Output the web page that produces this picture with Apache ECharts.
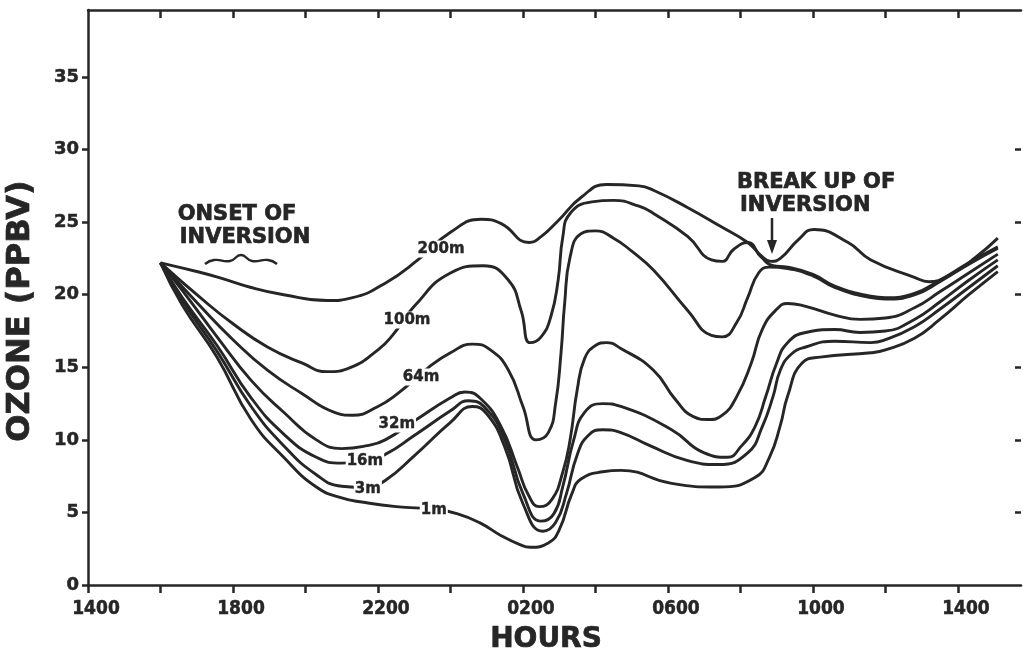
<!DOCTYPE html>
<html><head><meta charset="utf-8">
<script src="https://cdn.jsdelivr.net/npm/echarts@6/dist/echarts.min.js"></script>
<style>html,body{margin:0;padding:0;background:#fff}#c{width:1023px;height:658px}</style>
</head><body><div id="c"></div><script>
// hours counted from 1400 on day 1
const hourTicks = [0,2,4,6,8,10,12,14,16,18,20,22,24];
const hourLabels = [0,4,8,12,16,20,24];
const ozoneTicks = [0,5,10,15,20,25,30,35];
const rightTicks = [5,10,15,20,25,30];
const X_MAX = 25.74, Y_MAX = 39.62;

const o3_200m = [[2,22.2],[3.0,21.6],[3.6,21.2],[4.5,20.5],[5.4,20.0],[6.6,19.6],[7.3,19.8],[8.2,20.8],[9.1,22.4],[10.0,24.3],[10.85,25.2],[11.4,24.9],[12.17,23.6],[12.5,24.0],[12.97,25.1],[13.6,26.7],[14.3,27.6],[15.2,27.5],[15.6,27.2],[16.55,26.0],[17.46,24.7],[18.2,23.6],[18.57,22.7],[18.84,22.3],[19.1,22.5],[19.6,23.8],[20.03,24.5],[20.97,23.6],[21.6,22.4],[22.8,21.2],[23.2,20.9],[23.8,21.4],[24.5,22.6],[25.1,23.9]];
const o3_100m = [[2,22.2],[3.1,19.8],[4.0,18.0],[4.95,16.4],[5.9,15.3],[6.6,14.7],[7.25,15.0],[8.0,16.2],[8.4,17.2],[9.0,19.2],[10.0,21.5],[10.9,22.0],[11.6,21.0],[11.95,18.9],[12.2,16.7],[12.5,17.1],[12.77,18.5],[12.97,21.0],[13.1,24.0],[13.3,25.6],[13.9,26.4],[14.5,26.5],[15.2,26.1],[15.6,25.6],[16.55,24.0],[17.2,22.4],[17.5,22.3],[17.8,23.1],[18.2,23.6],[18.57,22.6],[18.9,22.0],[19.3,21.9],[20.0,21.4],[20.6,20.6],[21.6,19.9],[22.0,19.8],[22.8,20.1],[23.5,21.0],[24.3,22.2],[25.1,23.3]];
const o3_64m = [[2,22.2],[3.1,19.2],[4.0,16.9],[4.95,14.8],[5.9,13.2],[6.8,11.9],[7.3,11.7],[8.0,12.3],[8.55,13.2],[9.4,15.0],[10.0,16.0],[10.6,16.6],[11.1,16.2],[11.6,14.8],[12.0,12.3],[12.36,10.0],[12.7,10.5],[12.9,12.5],[13.05,16.0],[13.15,19.4],[13.3,22.6],[13.6,24.2],[14.0,24.4],[14.5,23.9],[15.0,23.0],[15.6,21.7],[16.55,18.9],[17.2,17.2],[17.5,17.1],[17.9,18.1],[18.2,19.8],[18.5,21.5],[18.8,21.9],[19.3,21.8],[20.0,21.3],[20.6,20.5],[21.6,19.8],[22.0,19.7],[22.8,20.0],[23.5,20.9],[24.3,22.1],[25.1,23.2]];
const o3_32m = [[2,22.2],[2.6,20.3],[3.56,17.1],[4.5,14.1],[5.4,11.9],[6.3,10.0],[7.0,9.4],[7.7,9.6],[8.2,10.0],[9.0,11.3],[10.0,12.9],[10.4,13.3],[10.85,12.8],[11.4,10.9],[11.85,8.1],[12.15,6.2],[12.45,5.4],[12.8,5.9],[13.1,7.8],[13.3,10.0],[13.5,13.5],[13.7,15.6],[14.0,16.5],[14.3,16.7],[14.7,16.3],[15.6,14.8],[16.2,12.8],[16.7,11.6],[17.1,11.4],[17.5,11.7],[17.9,13.0],[18.3,15.3],[18.6,17.6],[19.0,19.0],[19.3,19.4],[19.8,19.2],[20.6,18.6],[21.3,18.3],[22.0,18.4],[22.8,19.1],[23.5,20.2],[24.3,21.5],[25.1,22.8]];
const o3_16m = [[2,22.2],[2.6,19.8],[3.56,16.5],[4.5,12.9],[5.4,10.4],[6.3,8.8],[7.0,8.4],[7.6,8.5],[8.2,9.0],[9.0,10.3],[10.0,12.0],[10.5,12.7],[11.0,12.1],[11.5,10.0],[12.0,6.3],[12.5,4.4],[12.85,4.9],[13.1,6.8],[13.4,10.0],[13.7,11.9],[14.2,12.5],[14.7,12.3],[16.1,10.7],[17.0,9.1],[17.65,8.8],[18.0,9.5],[18.4,10.9],[18.7,13.0],[19.0,15.3],[19.3,16.7],[19.8,17.4],[20.6,17.6],[21.3,17.4],[22.0,17.5],[22.8,18.3],[23.5,19.5],[24.3,21.0],[25.1,22.4]];
const o3_3m = [[2,22.2],[2.6,19.6],[3.56,16.1],[4.5,12.3],[5.4,9.6],[6.3,7.6],[7.0,6.8],[7.7,6.7],[8.2,7.2],[9.0,8.9],[10.0,11.2],[10.6,12.3],[11.0,11.8],[11.5,9.5],[12.0,5.6],[12.55,3.7],[12.9,4.3],[13.2,6.3],[13.5,9.0],[13.8,10.3],[14.2,10.7],[14.7,10.5],[15.5,9.6],[16.5,8.6],[17.4,8.3],[18.2,9.1],[18.6,10.9],[18.9,13.0],[19.1,14.8],[19.4,15.9],[19.8,16.4],[20.6,16.8],[21.6,16.7],[22.0,16.9],[22.8,17.8],[23.5,19.0],[24.3,20.5],[25.1,22.0]];
const o3_1m = [[2,22.2],[2.6,19.3],[3.56,15.7],[4.5,11.4],[5.4,8.8],[6.3,6.75],[7.0,6.0],[7.6,5.7],[8.5,5.4],[9.6,5.2],[10.2,4.9],[10.8,4.3],[11.4,3.4],[11.9,2.8],[12.2,2.6],[12.7,2.9],[13.0,3.8],[13.35,6.3],[13.6,7.3],[14.2,7.8],[14.7,7.9],[16.1,7.0],[17.4,6.75],[18.4,7.4],[18.8,8.8],[19.1,11.0],[19.3,13.0],[19.7,15.3],[20.2,15.7],[21.6,16.0],[22.0,16.2],[22.8,17.0],[23.5,18.3],[24.3,20.0],[25.1,21.6]];

const seriesNames = ['200m','100m','64m','32m','16m','3m','1m'];
const seriesData = [o3_200m,o3_100m,o3_64m,o3_32m,o3_16m,o3_3m,o3_1m];
// label anchor [hour, ppbv] for each curve label
const labelAnchors = [[9.74,23.15],[8.8,18.26],[9.19,14.33],[8.52,11.09],[7.64,8.54],[7.72,6.61],[9.54,5.17]];

const INK = '#262626';
const FONT = '"DejaVu Sans", "Liberation Sans", sans-serif';
const fmtHour = v => { const h = (14 + v) % 24; return (h < 10 ? '0' : '') + h + '00'; };

const chart = echarts.init(document.getElementById('c'), null, {renderer:'canvas'});
const series = seriesData.map((d, i) => ({
  type:'line', name: seriesNames[i], data: d, xAxisIndex:0, yAxisIndex:0,
  showSymbol:false, symbol:'none', smooth:0.5,
  lineStyle:{color:INK, width:2.9}, z: 2,
  markPoint:{
    symbol:'rect', symbolSize:[1,1], itemStyle:{color:'rgba(0,0,0,0)'}, z: 6,
    label:{show:true, position:'inside', formatter: seriesNames[i], color:INK,
      fontFamily: FONT, fontWeight:'bold', fontSize:15, backgroundColor:'#fff', padding:[1,1],
      textBorderColor:INK, textBorderWidth:0.4},
    data:[{coord: labelAnchors[i]}]
  }
}));

const txt = (x, y, text, size, align, extra) => Object.assign({
  type:'text', x:x, y:y,
  style:{text:text, fill:INK, stroke:INK, lineWidth:0.7, font:'bold ' + size + 'px ' + FONT, align:align, verticalAlign:'middle'}
}, extra || {});

chart.setOption({
  animation:false,
  backgroundColor:'#fff',
  grid:{left:88, right:2, top:10, bottom:73, containLabel:false},
  xAxis:[
    {type:'value', position:'bottom', min:0, max:X_MAX, interval:2,
     axisLine:{show:true, onZero:false, lineStyle:{color:INK, width:2.5}},
     axisTick:{show:true, customValues: hourTicks, length:8, lineStyle:{color:INK, width:2.5}},
     axisLabel:{show:true, customValues: hourLabels, formatter: fmtHour, margin:15, color:INK,
       padding:[0,0,0,16], textBorderColor:INK, textBorderWidth:0.5,
       fontFamily:'"DejaVu Sans Condensed", "DejaVu Sans", sans-serif', fontWeight:'bold', fontSize:19},
     splitLine:{show:false}},
    {type:'value', position:'top', min:0, max:X_MAX, interval:2,
     axisLine:{show:true, onZero:false, lineStyle:{color:INK, width:2.5}},
     axisTick:{show:true, inside:true, customValues: hourTicks.slice(1), length:8, lineStyle:{color:INK, width:2.5}},
     axisLabel:{show:false}, splitLine:{show:false}}
  ],
  yAxis:[
    {type:'value', position:'left', min:0, max:Y_MAX, interval:5,
     axisLine:{show:true, onZero:false, lineStyle:{color:INK, width:2.5}},
     axisTick:{show:true, customValues: ozoneTicks, length:6, lineStyle:{color:INK, width:2.5}},
     axisLabel:{show:true, customValues: ozoneTicks, margin:9, color:INK,
       textBorderColor:INK, textBorderWidth:0.5,
       fontFamily: FONT, fontWeight:'bold', fontSize:18},
     splitLine:{show:false}},
    {type:'value', position:'right', min:0, max:Y_MAX, interval:5,
     axisLine:{show:false, onZero:false},
     axisTick:{show:true, inside:true, customValues: rightTicks, length:6, lineStyle:{color:INK, width:2.5}},
     axisLabel:{show:false}, splitLine:{show:false}}
  ],
  series: series,
  graphic:[
    txt(546, 640, 'HOURS', 28, 'center'),
    txt(21, 311, 'OZONE (PPBV)', 32, 'center', {rotation:Math.PI/2}),
    txt(237, 215, 'ONSET OF', 21, 'center'),
    txt(245, 238, 'INVERSION', 21, 'center'),
    {type:'polyline', shape:{points:[[205,264],[214,260],[230,261],[241,255],[252,261],[268,260],[277,264]], smooth:0.5},
     style:{stroke:INK, lineWidth:2.4, fill:null}},
    txt(737, 183, 'BREAK UP OF', 21, 'left'),
    txt(740, 206, 'INVERSION', 21, 'left'),
    {type:'line', shape:{x1:772, y1:218, x2:772, y2:244}, style:{stroke:INK, lineWidth:2.5}},
    {type:'polygon', shape:{points:[[767,240],[777,240],[772,254]]}, style:{fill:INK}}
  ]
});
</script></body></html>
